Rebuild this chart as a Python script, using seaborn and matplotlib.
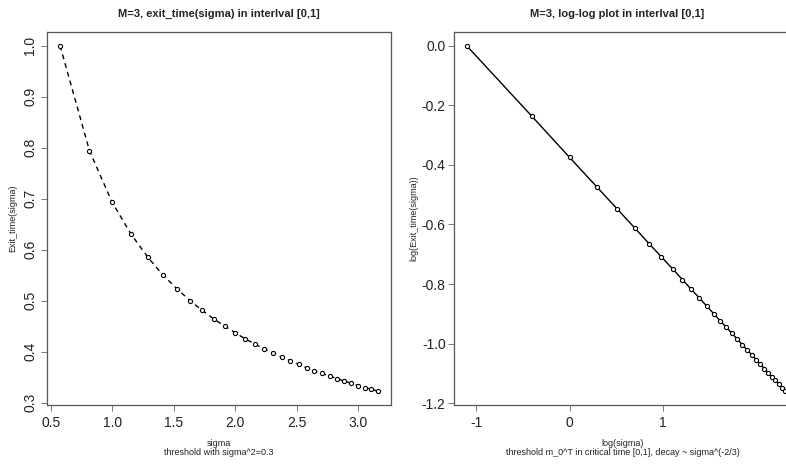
# Two R-style panels: exit time against sigma, and the same thing on log-log axes.

import seaborn as sns
import matplotlib.pyplot as plt
import pandas as pd

# Data
sigma = [0.577, 0.816, 1.000, 1.155, 1.291, 1.414, 1.528, 1.633, 1.732, 1.826,
         1.915, 2.000, 2.082, 2.160, 2.236, 2.309, 2.380, 2.449, 2.517, 2.582,
         2.646, 2.708, 2.769, 2.828, 2.887, 2.944, 3.000, 3.055, 3.109, 3.162]
exit_time = [1.000, 0.794, 0.693, 0.630, 0.585, 0.550, 0.523, 0.500, 0.481, 0.464,
             0.450, 0.437, 0.425, 0.415, 0.405, 0.397, 0.389, 0.382, 0.375, 0.368,
             0.362, 0.357, 0.352, 0.347, 0.342, 0.338, 0.333, 0.329, 0.326, 0.322]

log_sigma = [-1.099, -0.405, 0.000, 0.288, 0.511, 0.693, 0.847, 0.981, 1.099, 1.204,
             1.299, 1.386, 1.466, 1.540, 1.609, 1.674, 1.735, 1.792, 1.846, 1.897,
             1.946, 1.992, 2.037, 2.079, 2.120, 2.159, 2.197, 2.234, 2.269, 2.303]
log_exit = [0.000, -0.236, -0.375, -0.473, -0.549, -0.611, -0.664, -0.709, -0.749, -0.785,
            -0.818, -0.847, -0.875, -0.900, -0.924, -0.946, -0.966, -0.986, -1.004, -1.022,
            -1.038, -1.054, -1.069, -1.084, -1.098, -1.111, -1.124, -1.136, -1.148, -1.160]

left_xticks = [0.5, 1.0, 1.5, 2.0, 2.5, 3.0]
left_yticks = [0.3, 0.4, 0.5, 0.6, 0.7, 0.8, 0.9, 1.0]
right_xticks = [-1, 0, 1]
right_yticks = [0.0, -0.2, -0.4, -0.6, -0.8, -1.0, -1.2]

df_lin = pd.DataFrame({'sigma': sigma, 'exit_time': exit_time})
df_log = pd.DataFrame({'log_sigma': log_sigma, 'log_exit': log_exit})

sns.set_style('white')
plt.rcParams['font.family'] = ['Liberation Sans', 'DejaVu Sans']

W, H = 786, 466
fig = plt.figure(figsize=(W / 100, H / 100), dpi=100)
ax1 = fig.add_axes([47 / W, (H - 405) / H, 344 / W, 373 / H])
ax2 = fig.add_axes([454 / W, (H - 405) / H, 344 / W, 373 / H])

pt_style = dict(color='black', marker='o', markersize=3.0, markerfacecolor='white',
                markeredgecolor='black', markeredgewidth=0.8, linewidth=1.0, sort=False)

sns.lineplot(data=df_lin, x='sigma', y='exit_time', ax=ax1, linestyle=(0, (3.5, 3)), **pt_style)
sns.lineplot(data=df_log, x='log_sigma', y='log_exit', ax=ax2, linestyle='-', **pt_style)

ax1.set_xlim(0.4705, 3.2684)
ax1.set_ylim(0.2951, 1.0271)
ax2.set_xlim(-1.235, 2.439)
ax2.set_ylim(-1.2064, 0.0464)

ax1.set_xticks(left_xticks)
ax1.set_xticklabels([f'{v:.1f}' for v in left_xticks])
ax1.set_yticks(left_yticks)
ax1.set_yticklabels([f'{v:.1f}' for v in left_yticks], rotation=90, va='center')
ax2.set_xticks(right_xticks)
ax2.set_xticklabels([str(v) for v in right_xticks])
ax2.set_yticks(right_yticks)
ax2.set_yticklabels([f'{v:.1f}' for v in right_yticks])

for ax in (ax1, ax2):
    for s in ax.spines.values():
        s.set_color('#555555')
        s.set_linewidth(0.9)
    ax.tick_params(axis='both', which='major', direction='out', length=4.5, width=0.7,
                   color='#777777', labelsize=10, labelcolor='#222222', bottom=True, left=True)
    ax.tick_params(axis='x', pad=3.5)
    ax.set_xlabel('')
    ax.set_ylabel('')
ax1.tick_params(axis='y', pad=2.5)
ax2.tick_params(axis='y', pad=1.5)

# titles and axis labels, placed like R's plot()
fig.text(219 / W, 1 - 14 / H, 'M=3, exit_time(sigma) in interlval [0,1]',
         ha='center', va='center', fontsize=8, fontweight='bold', color='#222222')
fig.text(617 / W, 1 - 14 / H, 'M=3, log-log plot in interlval [0,1]',
         ha='center', va='center', fontsize=8, fontweight='bold', color='#222222')

fig.text(219 / W, 1 - 448 / H, 'sigma\nthreshold with sigma^2=0.3',
         ha='center', va='center', fontsize=6.5, linespacing=1.05, color='#222222')
fig.text(623 / W, 1 - 448 / H, 'log(sigma)\nthreshold m_0^T in critical time [0,1], decay ~ sigma^(-2/3)',
         ha='center', va='center', fontsize=6.5, linespacing=1.05, color='#222222')

fig.text(13 / W, 1 - 218 / H, 'Exit_time(sigma)', rotation=90,
         ha='center', va='center', fontsize=6.5, color='#222222')
fig.text(414 / W, 1 - 218 / H, 'log(Exit_time(sigma))', rotation=90,
         ha='center', va='center', fontsize=6.5, color='#222222')

plt.savefig('out.png', dpi=100)
